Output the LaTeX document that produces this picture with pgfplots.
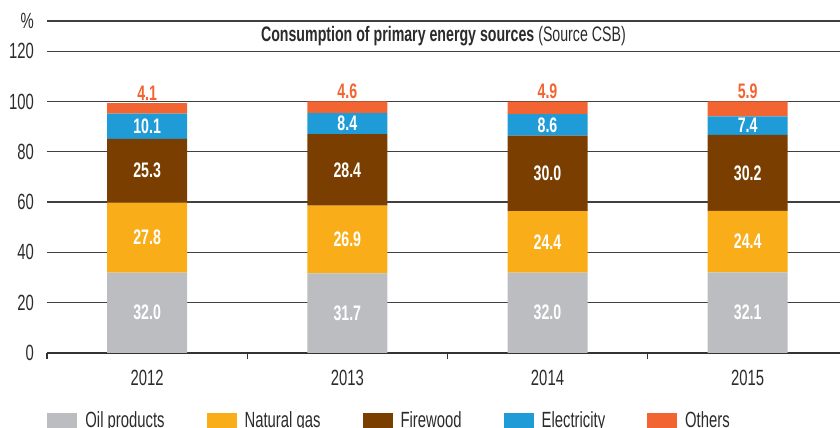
\documentclass[border=0pt]{standalone}
\usepackage{pgfplots}
\pgfplotsset{compat=1.18}
\usepackage{pgfplotstable}
\usepackage{fontspec}
\setmainfont{Liberation Sans}[FakeStretch=0.675]
\definecolor{cOil}{HTML}{BCBDC0}
\definecolor{cGas}{HTML}{F9AE19}
\definecolor{cWood}{HTML}{7A3E00}
\definecolor{cElec}{HTML}{1F9BD7}
\definecolor{cOth}{HTML}{F26532}
\definecolor{cTxt}{HTML}{2B2B2B}
\pgfplotstableread{
x oil gas wood elec other
0 32.0 27.8 25.3 10.1 4.1
1 31.7 26.9 28.4 8.4 4.6
2 32.0 24.4 30.0 8.6 4.9
3 32.1 24.4 30.2 7.4 5.9
}\datatable
% label positions derived from the data (segment midpoints)
\pgfplotstablecreatecol[create col/expr={\thisrow{oil}/2}]{moil}\datatable
\pgfplotstablecreatecol[create col/expr={\thisrow{oil}+\thisrow{gas}/2}]{mgas}\datatable
\pgfplotstablecreatecol[create col/expr={\thisrow{oil}+\thisrow{gas}+\thisrow{wood}/2}]{mwood}\datatable
\pgfplotstablecreatecol[create col/expr={\thisrow{oil}+\thisrow{gas}+\thisrow{wood}+\thisrow{elec}/2}]{melec}\datatable
\pgfplotstablecreatecol[create col/expr={\thisrow{oil}+\thisrow{gas}+\thisrow{wood}+\thisrow{elec}+\thisrow{other}}]{moth}\datatable
\newcommand{\lblfont}{\fontsize{11}{12}\selectfont}
\newcommand{\valfont}{\bfseries\fontsize{10.5}{12}\selectfont}
\pgfplotsset{commonax/.style={scale only axis,
  x=100.1pt, y=1.2576pt,
  xmin=-0.5, xmax=3.461, ymin=0, ymax=132}}
\begin{document}
\begin{tikzpicture}
\begin{axis}[name=ax, commonax,
  ybar stacked, bar width=40pt,
  axis lines*=left, axis line style={-},
  y axis line style={draw=none},
  x axis line style={black!80, line width=0.8pt},
  ytick={0,20,40,60,80,100,120},
  extra y ticks={132}, extra y tick labels={\%},
  ymajorgrids=true,
  grid style={black!75, line width=0.6pt},
  xtick={0,1,2,3}, xticklabels={2012,2013,2014,2015},
  minor xtick={-0.5,0.5,1.5,2.5,3.5},
  major tick length=0pt, minor tick length=3pt, tick align=outside,
  xtick style={black!80, line width=0.6pt},
  ytick style={draw=none},
  /pgf/number format/assume math mode=true,
  ticklabel style={font=\lblfont, text=cTxt},
  yticklabel style={xshift=-3pt},
  xticklabel style={yshift=-5pt},
  legend style={at={(0,0)}, anchor=west, yshift=-34pt, draw=none, fill=none,
    inner sep=0pt, font=\lblfont, text=cTxt,
    /tikz/every odd column/.append style={column sep=2pt},
    /tikz/every even column/.append style={column sep=19pt}},
  legend columns=5, legend cell align=left,
  legend image code/.code={\fill[#1] (0pt,-4pt) rectangle (15pt,4pt);},
]
\addplot[fill=cOil, draw=none] table[x=x, y=oil]{\datatable};
\addlegendentry{Oil products}
\addplot[fill=cGas, draw=none] table[x=x, y=gas]{\datatable};
\addlegendentry{Natural gas}
\addplot[fill=cWood, draw=none] table[x=x, y=wood]{\datatable};
\addlegendentry{Firewood}
\addplot[fill=cElec, draw=none] table[x=x, y=elec]{\datatable};
\addlegendentry{Electricity}
\addplot[fill=cOth, draw=none] table[x=x, y=other]{\datatable};
\addlegendentry{Others}
\node[font=\fontsize{10.5}{12}\selectfont, text=cTxt] at (axis cs:1.48,125.8)
  {\textbf{Consumption of primary energy sources} (Source CSB)};
\end{axis}
\begin{axis}[commonax, hide axis,
  point meta=explicit symbolic,
  nodes near coords,
  every node near coord/.append style={font=\valfont, text=white, anchor=center}]
\addplot[draw=none, mark=none] table[x=x, y=moil, meta=oil]{\datatable};
\addplot[draw=none, mark=none] table[x=x, y=mgas, meta=gas]{\datatable};
\addplot[draw=none, mark=none] table[x=x, y=mwood, meta=wood]{\datatable};
\addplot[draw=none, mark=none] table[x=x, y=melec, meta=elec]{\datatable};
\addplot[draw=none, mark=none, every node near coord/.append style={text=cOth, anchor=south, yshift=-2pt}] table[x=x, y=moth, meta=other]{\datatable};
\end{axis}
\pgfresetboundingbox
\path ([xshift=-23.5pt,yshift=-37.5pt]ax.south west) rectangle ([yshift=10.5pt]ax.north east);
\end{tikzpicture}
\end{document}
